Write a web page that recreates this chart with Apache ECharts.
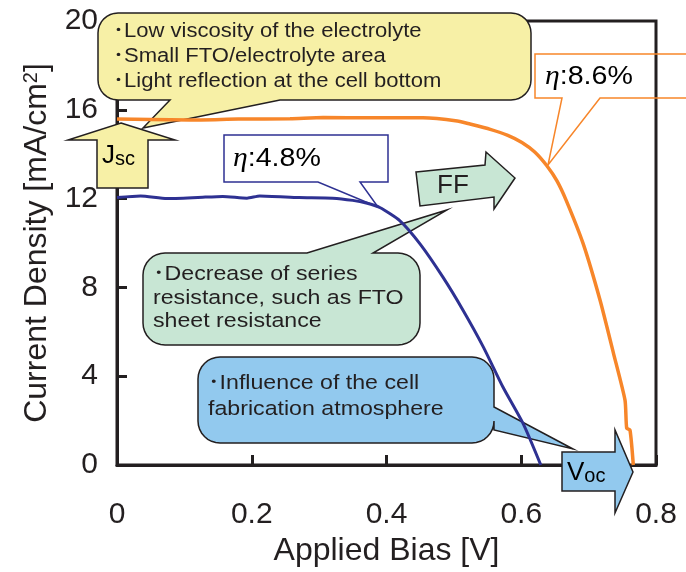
<!DOCTYPE html>
<html>
<head>
<meta charset="utf-8">
<script src="https://cdn.jsdelivr.net/npm/echarts@6/dist/echarts.min.js"></script>
<style>
  html, body { margin: 0; padding: 0; background: #fff; }
  #chart { width: 686px; height: 572px; }
</style>
</head>
<body>
<div id="chart"></div>
<script>
// J-V curves (V in volts, J in mA/cm2)
const blueV = [0, 0.035, 0.074, 0.12, 0.157, 0.193, 0.212, 0.27, 0.32, 0.35, 0.37, 0.39, 0.42, 0.45, 0.484, 0.514, 0.544, 0.573, 0.603, 0.629];
const blueJ = [12.05, 12.12, 12.0, 12.05, 12.1, 12.02, 12.12, 12.05, 12.02, 11.92, 11.8, 11.6, 11.0, 9.95, 8.45, 6.95, 5.3, 3.5, 1.85, 0];

const orangeV = [0, 0.05, 0.108, 0.18, 0.257, 0.306, 0.38, 0.454, 0.505, 0.524, 0.554, 0.58, 0.601, 0.62, 0.638, 0.653, 0.667, 0.692, 0.717, 0.737, 0.754, 0.7565, 0.7614, 0.7663];
const orangeJ = [15.58, 15.56, 15.54, 15.58, 15.6, 15.65, 15.64, 15.64, 15.5, 15.36, 15.12, 14.85, 14.53, 14.1, 13.48, 12.8, 11.9, 9.96, 7.42, 5.02, 2.92, 1.66, 1.57, 0];

const xTicks = [0, 0.2, 0.4, 0.6, 0.8];
const yTicks = [0, 4, 8, 12, 16, 20];

const xTitle = 'Applied Bias [V]';
const yTitle = 'Current Density [mA/cm{sup|2}]';

const yellowNotes = ['･Low viscosity of the electrolyte', '･Small FTO/electrolyte area', '･Light reflection at the cell bottom'];
const greenNotes = ['･Decrease of series', 'resistance, such as FTO', 'sheet resistance'];
const blueNotes = ['･Influence of the cell', 'fabrication atmosphere'];
const effBlue = ':4.8%';
const effOrange = ':8.6%';

const ink = '#231F20';
const navy = '#2E3192';
const orange = '#F7862A';
const font = '"Liberation Sans", Arial, "Noto Sans CJK JP", sans-serif';

// rounded box with a wedge tail, as a list of polygon points
function bubble(x, y, w, h, r, tail) {
  const pts = [];
  const arc = (cx, cy, a0, a1) => {
    for (let i = 0; i <= 8; i++) {
      const a = a0 + (a1 - a0) * i / 8;
      pts.push([cx + r * Math.cos(a), cy + r * Math.sin(a)]);
    }
  };
  const PI = Math.PI;
  arc(x + r, y + r, PI, 1.5 * PI);
  if (tail.side === 'top') pts.push([tail.a, y], tail.tip, [tail.b, y]);
  arc(x + w - r, y + r, 1.5 * PI, 2 * PI);
  if (tail.side === 'right') pts.push([x + w, tail.a], tail.tip, [x + w, tail.b]);
  arc(x + w - r, y + h - r, 0, 0.5 * PI);
  if (tail.side === 'bottom') pts.push([tail.b, y + h], tail.tip, [tail.a, y + h]);
  arc(x + r, y + h - r, 0.5 * PI, PI);
  return pts;
}

function note(x, y, lines, size, lh) {
  return {
    type: 'text', x: x, y: y, z: 1, scaleX: 1.13,
    style: { text: lines.join('\n'), font: size + 'px ' + font, fill: ink, lineHeight: lh, textVerticalAlign: 'top' }
  };
}

function eta(x, y, txt, color) {
  return {
    type: 'text', x: x, y: y, z: 1, scaleX: 1.1,
    style: {
      text: '{e|η}{t|' + txt + '}', textVerticalAlign: 'middle',
      rich: {
        e: { fontFamily: '"Liberation Serif", serif', fontStyle: 'italic', fontSize: 27, color: color },
        t: { fontFamily: font, fontSize: 26, color: color }
      }
    }
  };
}

function subLabel(x, y, big, small) {
  return {
    type: 'text', x: x, y: y, z: 1,
    style: {
      text: '{a|' + big + '}{b|' + small + '}', textVerticalAlign: 'middle',
      rich: {
        a: { fontFamily: font, fontSize: 26, color: ink, lineHeight: 26, verticalAlign: 'bottom' },
        b: { fontFamily: font, fontSize: 20, color: ink, lineHeight: 21, verticalAlign: 'bottom' }
      }
    }
  };
}

const chart = echarts.init(document.getElementById('chart'));

const option = {
  animation: false,
  grid: { left: 117, right: 30, top: 21, bottom: 107, show: true, borderColor: ink, borderWidth: 3 },
  xAxis: {
    type: 'value',
    min: xTicks[0], max: xTicks[xTicks.length - 1], interval: xTicks[1] - xTicks[0],
    name: xTitle, nameLocation: 'middle', nameGap: 70,
    nameTextStyle: { fontSize: 32, color: ink, fontFamily: font },
    axisLine: { lineStyle: { color: ink, width: 3 } },
    axisTick: { inside: true, length: 10, lineStyle: { color: ink, width: 3 } },
    axisLabel: { fontSize: 30, color: ink, margin: 35, fontFamily: font },
    splitLine: { show: false }
  },
  yAxis: {
    type: 'value',
    min: yTicks[0], max: yTicks[yTicks.length - 1], interval: yTicks[1] - yTicks[0],
    name: yTitle, nameLocation: 'middle', nameGap: 64,
    nameTextStyle: {
      fontSize: 32, color: ink, fontFamily: font,
      rich: { sup: { fontSize: 20, color: ink, fontFamily: font, verticalAlign: 'top' } }
    },
    axisLine: { show: true, lineStyle: { color: ink, width: 3 } },
    axisTick: { show: true, inside: true, length: 10, lineStyle: { color: ink, width: 3 } },
    axisLabel: { fontSize: 30, color: ink, margin: 19, fontFamily: font },
    splitLine: { show: false }
  },
  series: [
    {
      type: 'line', z: 3, showSymbol: false, smooth: 0.2,
      data: orangeV.map((v, i) => [v, orangeJ[i]]),
      lineStyle: { color: orange, width: 3.5 }
    },
    {
      type: 'line', z: 3, showSymbol: false, smooth: 0.2,
      data: blueV.map((v, i) => [v, blueJ[i]]),
      lineStyle: { color: navy, width: 3 }
    }
  ],
  graphic: [
    // yellow callout + Jsc arrow
    {
      type: 'polygon', z: 1,
      shape: { points: bubble(98, 13, 433, 87, 20, { side: 'bottom', a: 170, b: 280, tip: [143, 128] }) },
      style: { fill: '#F7F0A6', stroke: ink, lineWidth: 1.5 }
    },
    note(113, 19, yellowNotes, 19.5, 25),
    {
      type: 'polygon', z: 1,
      shape: { points: [[121, 123], [175, 140], [148, 140], [148, 188], [97, 188], [97, 140], [68, 140]] },
      style: { fill: '#F7F0A6', stroke: ink, lineWidth: 1.5 }
    },
    subLabel(102, 156, 'J', 'sc'),
    // efficiency boxes
    {
      type: 'polygon', z: 1,
      shape: { points: bubble(224, 135, 164, 47, 0, { side: 'bottom', a: 318, b: 360, tip: [378, 207] }) },
      style: { fill: '#fff', stroke: navy, lineWidth: 1.5 }
    },
    eta(233, 159, effBlue, navy),
    {
      type: 'polygon', z: 1,
      shape: { points: bubble(535, 54, 160, 44, 0, { side: 'bottom', a: 562, b: 600, tip: [548, 165] }) },
      style: { fill: 'none', stroke: orange, lineWidth: 1.5 }
    },
    eta(545, 77, effOrange, orange),
    // FF arrow
    {
      type: 'polygon', z: 1,
      shape: { points: [[416, 172], [485, 165], [486, 152], [515, 178], [494, 209], [494, 197], [420, 206]] },
      style: { fill: '#C8E6D4', stroke: ink, lineWidth: 1.5 }
    },
    {
      type: 'text', x: 437, y: 186, z: 1,
      style: { text: 'FF', font: '26px ' + font, fill: ink, textVerticalAlign: 'middle' }
    },
    // green callout
    {
      type: 'polygon', z: 1,
      shape: { points: bubble(143, 253, 277, 92, 22, { side: 'top', a: 307, b: 373, tip: [447, 210] }) },
      style: { fill: '#C8E6D4', stroke: ink, lineWidth: 1.5 }
    },
    note(153, 263, greenNotes, 20.5, 23.5),
    // blue callout + Voc arrow
    {
      type: 'polygon', z: 1,
      shape: { points: bubble(198, 357, 296, 86, 22, { side: 'right', a: 407, b: 430, tip: [573, 449] }) },
      style: { fill: '#92C9EE', stroke: ink, lineWidth: 1.5 }
    },
    note(208, 370, blueNotes, 20.5, 26),
    {
      type: 'polygon', z: 1,
      shape: { points: [[562, 452], [615, 452], [615, 430], [633, 472], [615, 513], [615, 491], [562, 491]] },
      style: { fill: '#92C9EE', stroke: ink, lineWidth: 1.5 }
    },
    subLabel(567, 473, 'V', 'oc')
  ]
};

chart.setOption(option);
</script>
</body>
</html>
